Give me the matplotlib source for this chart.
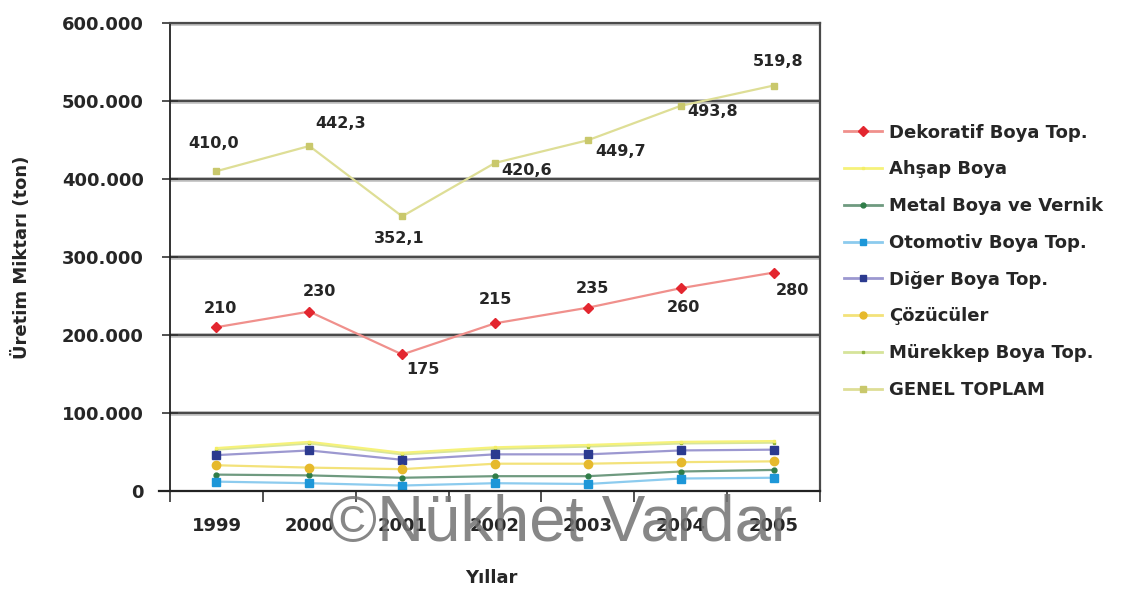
import matplotlib
matplotlib.use("Agg")
import matplotlib.pyplot as plt
from matplotlib.ticker import FuncFormatter, FixedLocator
from matplotlib.lines import Line2D

years = ["1999", "2000", "2001", "2002", "2003", "2004", "2005"]

dekoratif = [210, 230, 175, 215, 235, 260, 280]          # bin ton
ahsap = [55, 63, 49, 56, 59, 63, 64]
metal = [21, 20, 17, 19, 19, 25, 27]
otomotiv = [12, 10, 7, 10, 9, 16, 17]
diger = [46, 52, 40, 47, 47, 52, 53]
cozuculer = [33, 30, 28, 35, 35, 37, 38]
murekkep = [53, 61, 47, 54, 57, 61, 62]
genel = [410.0, 442.3, 352.1, 420.6, 449.7, 493.8, 519.8]

dekoratif_labels = ["210", "230", "175", "215", "235", "260", "280"]
genel_labels = ["410,0", "442,3", "352,1", "420,6", "449,7", "493,8", "519,8"]

series_names = ["Dekoratif Boya Top.", "Ahşap Boya", "Metal Boya ve Vernik",
                "Otomotiv Boya Top.", "Diğer Boya Top.", "Çözücüler",
                "Mürekkep Boya Top.", "GENEL TOPLAM"]

FONT = "DejaVu Sans"
TXT = "#262626"

fig = plt.figure(figsize=(11.21, 5.91), dpi=100)
ax = fig.add_axes([0.1517, 0.1692, 0.5798, 0.7919])

x = list(range(len(years)))
k = 1000

# (values, line colour, marker colour, marker, marker size, zorder)
styles = [
    (dekoratif, "#f0908c", "#e3262f", "D", 5, 6),
    (ahsap, "#f6f27a", "#f4ee66", "s", 2, 4),
    (metal, "#6f9a80", "#2f7d48", "o", 3.5, 5),
    (otomotiv, "#8ccbee", "#1d97d8", "s", 6, 5),
    (diger, "#9c98d0", "#2b3a8f", "s", 6, 5),
    (cozuculer, "#f3e27a", "#e6b92c", "o", 6, 5),
    (murekkep, "#d6e49a", "#8db23c", "s", 2, 3),
    (genel, "#dede96", "#c9c86c", "s", 5, 6),
]

handles = []
for name, (vals, lc, mc, mk, ms, zo) in zip(series_names, styles):
    ax.plot(x, [v * k for v in vals], color=lc, lw=1.6, marker=mk, ms=ms,
            mfc=mc, mec=mc, zorder=zo)
    handles.append(Line2D([0], [0], color=lc, lw=2, marker=mk,
                          ms=min(ms, 5), mfc=mc, mec=mc))

# value labels
dek_off = [(4, 19), (10, 20), (21, -15), (0, 24), (5, 19), (3, -19), (19, -18)]
gen_off = [(-3, 28), (31, 22), (-3, -22), (32, -8), (33, -11), (32, -6), (5, 24)]
for i in x:
    ax.annotate(dekoratif_labels[i], (i, dekoratif[i] * k), xytext=dek_off[i],
                textcoords="offset pixels", ha="center", va="center",
                fontsize=11.5, fontweight="bold", family=FONT, color=TXT, zorder=8)
    ax.annotate(genel_labels[i], (i, genel[i] * k), xytext=gen_off[i],
                textcoords="offset pixels", ha="center", va="center",
                fontsize=11.5, fontweight="bold", family=FONT, color=TXT, zorder=8)

ax.set_xlim(-0.5, 6.5)
ax.set_ylim(0, 600000)

# gridlines and frame
for yv in range(100000, 600001, 100000):
    ax.axhline(yv, color="#c8c8c8", lw=3.5, zorder=1)
    ax.axhline(yv, color="#4a4a4a", lw=1.6, zorder=1.5)
ax.spines["top"].set_color("#4a4a4a")
ax.spines["top"].set_linewidth(1.6)
ax.spines["right"].set_color("#4a4a4a")
ax.spines["right"].set_linewidth(1.6)
ax.spines["left"].set_color("#222222")
ax.spines["left"].set_linewidth(1.3)
ax.spines["bottom"].set_visible(False)
ax.plot([-0.62, 6.5], [0, 0], color="#222222", lw=1.6, clip_on=False, zorder=7)

ax.yaxis.set_major_locator(FixedLocator(range(0, 600001, 100000)))
ax.yaxis.set_major_formatter(FuncFormatter(lambda v, p: f"{int(v):,}".replace(",", ".")))
ax.tick_params(axis="y", direction="inout", length=12, width=1.2, color="#333333",
               pad=13, labelsize=13, labelcolor=TXT)

ax.set_xticks(x)
ax.set_xticklabels(years)
ax.set_xticks([i + 0.5 for i in range(-1, 7)], minor=True)
ax.tick_params(axis="x", which="major", length=0, pad=19, labelsize=13, labelcolor=TXT)
ax.tick_params(axis="x", which="minor", direction="out", length=8, width=1.2, color="#333333")

for lbl in ax.get_xticklabels() + ax.get_yticklabels():
    lbl.set_fontweight("bold")
    lbl.set_family(FONT)

ax.set_ylabel("Üretim Miktarı (ton)", fontsize=13, fontweight="bold", family=FONT,
              color=TXT)
ax.yaxis.set_label_coords(-0.214, 0.5)
ax.set_xlabel("Yıllar", fontsize=13, fontweight="bold", family=FONT, color=TXT)
ax.xaxis.set_label_coords(0.495, -0.167)

leg = fig.legend(handles, series_names, loc="upper left", bbox_to_anchor=(0.7385, 0.8185),
                 frameon=False, handlelength=2.1, handletextpad=0.4, labelspacing=1.04,
                 prop={"family": FONT, "weight": "bold", "size": 13})
for t in leg.get_texts():
    t.set_color(TXT)

fig.text(0.5, 0.114, "©Nükhet Vardar", fontsize=47, family="Liberation Sans",
         color="#727272", alpha=0.85, ha="center", va="center", zorder=20)

fig.savefig("out.png", dpi=100, facecolor="white")
